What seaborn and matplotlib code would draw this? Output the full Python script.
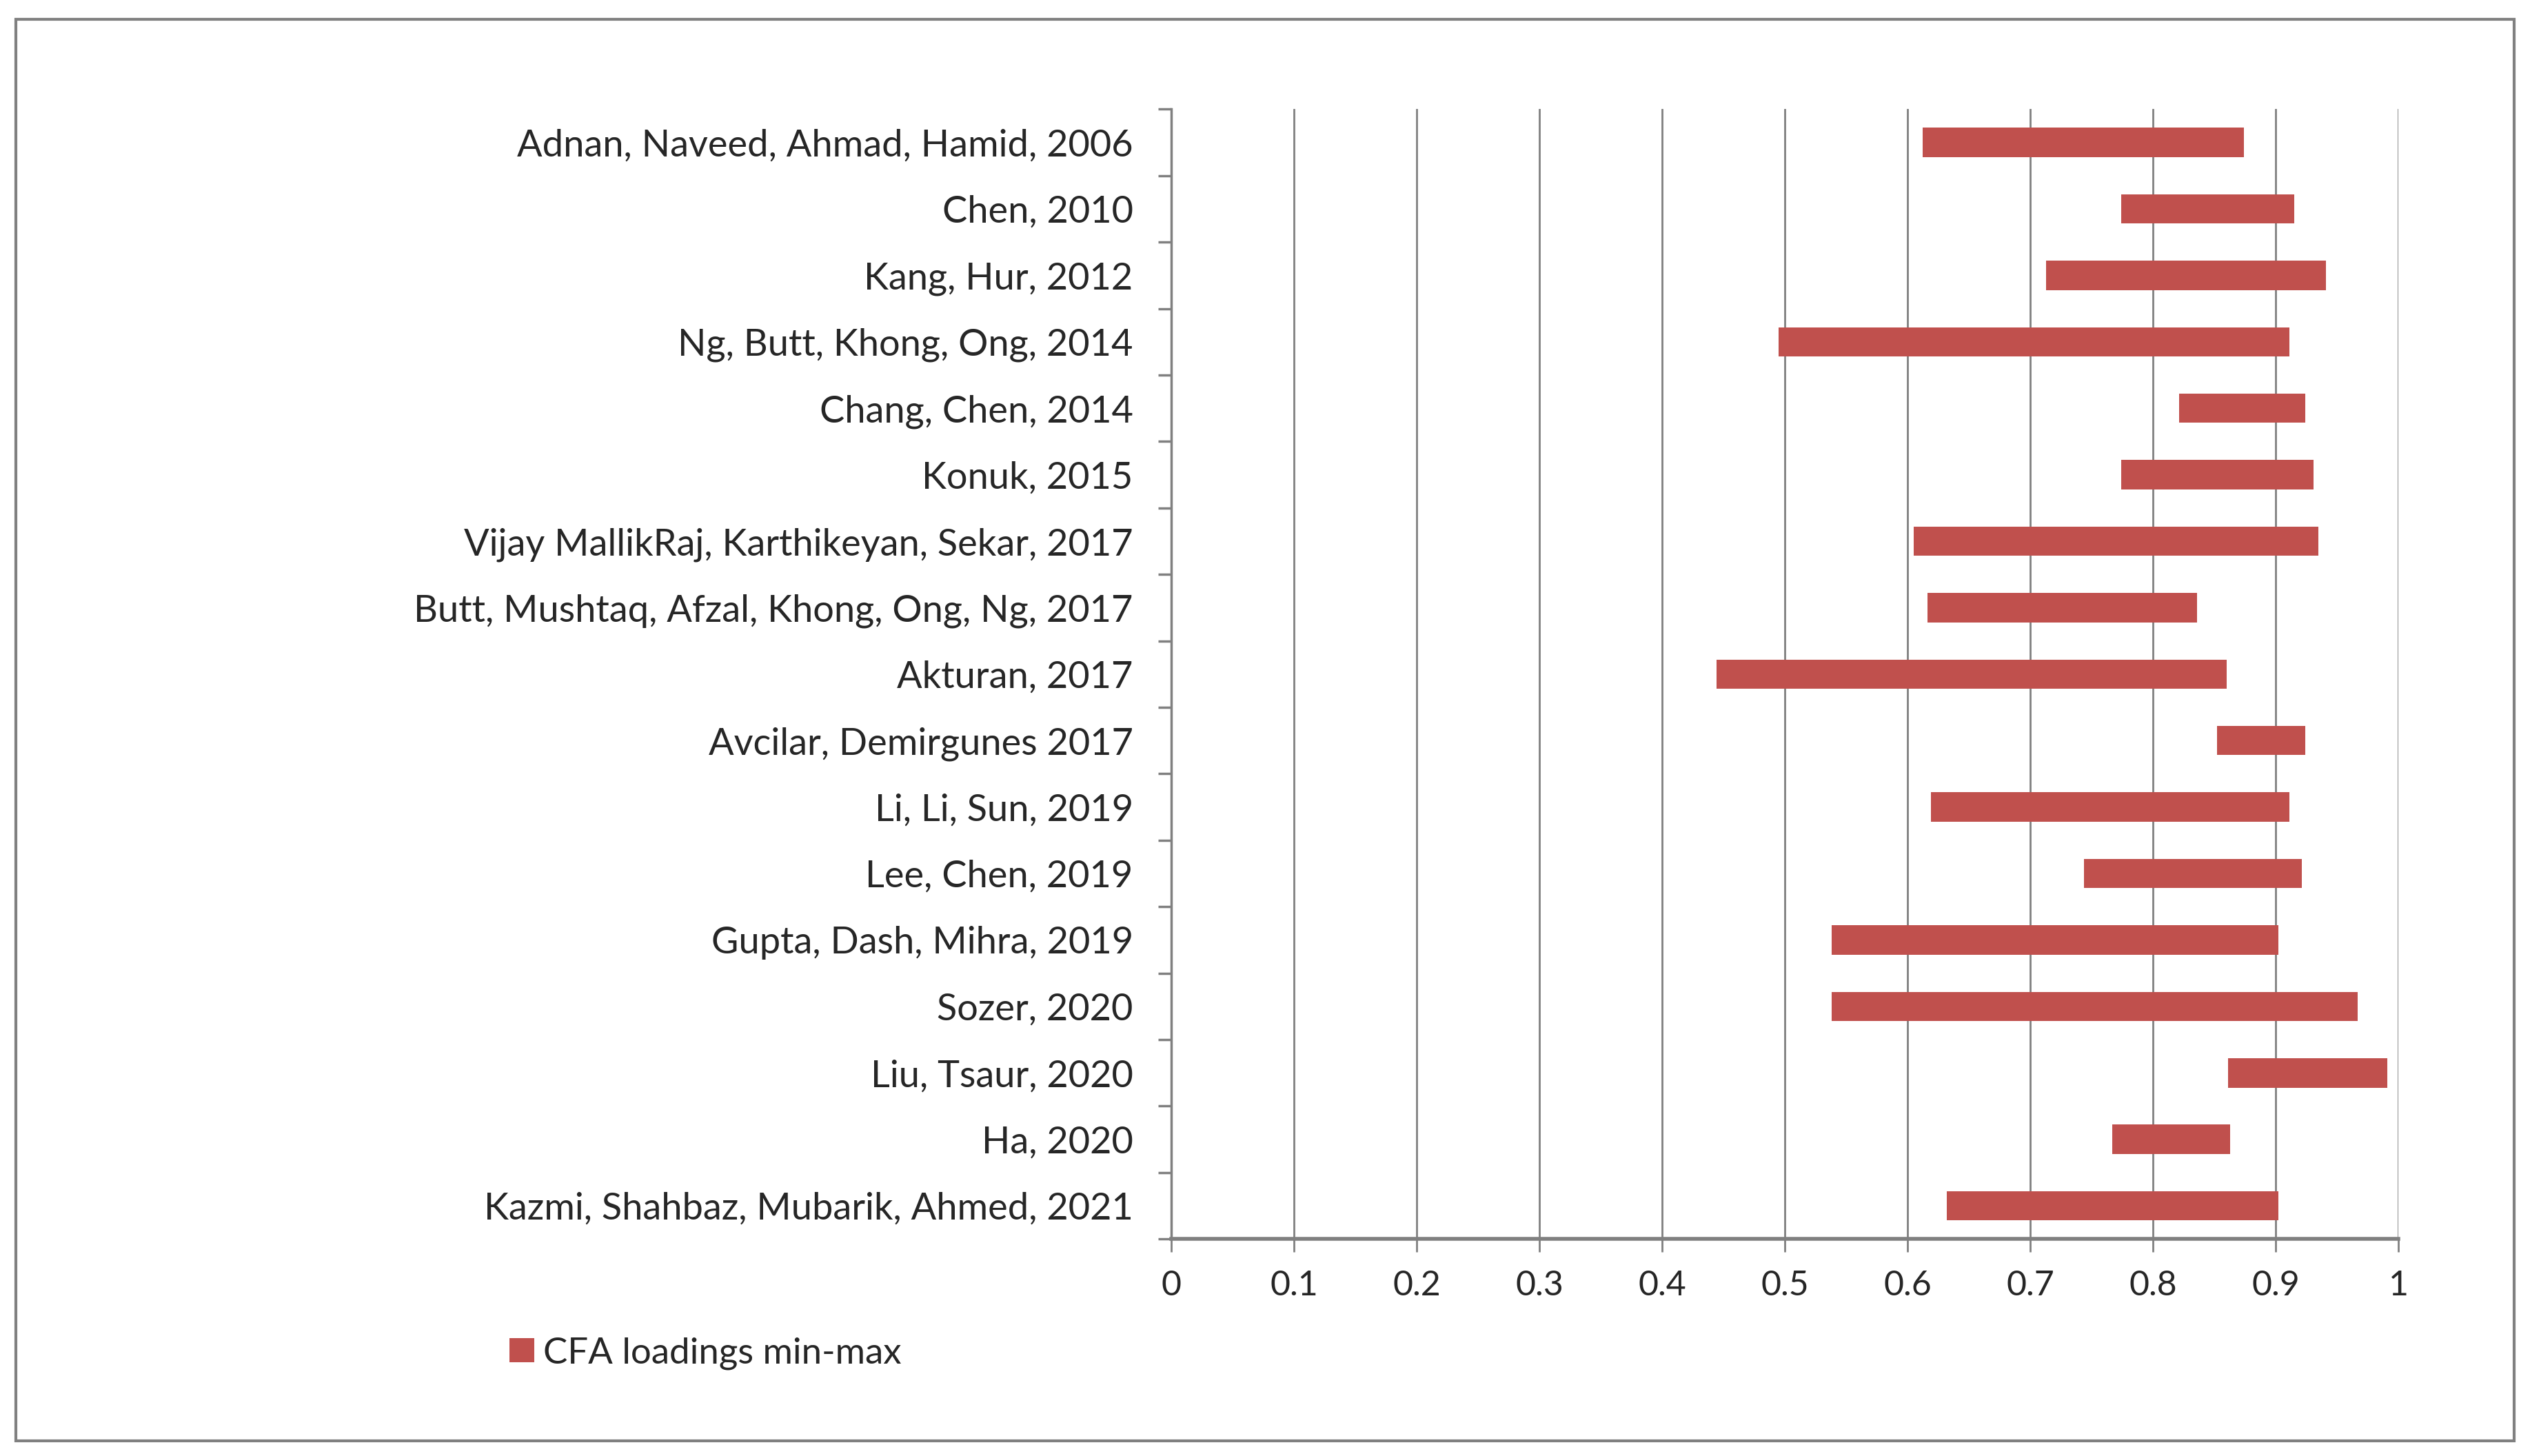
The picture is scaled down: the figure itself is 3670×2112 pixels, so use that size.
import numpy as np
import pandas as pd
import seaborn as sns
import matplotlib.pyplot as plt
from matplotlib.patches import Rectangle
from matplotlib.ticker import FixedLocator

# CFA loading ranges per study
studies = [
    "Adnan, Naveed, Ahmad, Hamid, 2006",
    "Chen, 2010",
    "Kang, Hur, 2012",
    "Ng, Butt, Khong, Ong, 2014",
    "Chang, Chen, 2014",
    "Konuk, 2015",
    "Vijay MallikRaj, Karthikeyan, Sekar, 2017",
    "Butt, Mushtaq, Afzal, Khong, Ong, Ng, 2017",
    "Akturan, 2017",
    "Avcilar, Demirgunes 2017",
    "Li, Li, Sun, 2019",
    "Lee, Chen, 2019",
    "Gupta, Dash, Mihra, 2019",
    "Sozer, 2020",
    "Liu, Tsaur, 2020",
    "Ha, 2020",
    "Kazmi, Shahbaz, Mubarik, Ahmed, 2021",
]
load_min = [0.612, 0.774, 0.713, 0.495, 0.821, 0.774, 0.605, 0.616, 0.444,
            0.852, 0.619, 0.744, 0.538, 0.538, 0.861, 0.767, 0.632]
load_max = [0.874, 0.915, 0.941, 0.911, 0.924, 0.931, 0.935, 0.836, 0.860,
            0.924, 0.911, 0.921, 0.902, 0.967, 0.991, 0.863, 0.902]
x_ticks = [0, 0.1, 0.2, 0.3, 0.4, 0.5, 0.6, 0.7, 0.8, 0.9, 1]
x_tick_labels = ["0", "0.1", "0.2", "0.3", "0.4", "0.5", "0.6", "0.7", "0.8", "0.9", "1"]
series_name = "CFA loadings min-max"

BAR_COLOR = "#C0504D"
GRID_COLOR = "#808080"

sns.set_style("white")
plt.rcParams["font.family"] = ["Lato", "DejaVu Sans"]

df = pd.DataFrame({"study": studies, "lo": load_min, "hi": load_max})

fig = plt.figure(figsize=(36.7, 21.12), dpi=100)
ax = fig.add_axes([0.463, 0.149, 0.485, 0.776])

sns.barplot(data=df, x="hi", y="study", orient="h", color=BAR_COLOR,
            saturation=1, width=0.44, ax=ax, label=series_name)

# turn each full bar into a min-max floating bar
for patch, lo, hi in zip(ax.patches, df["lo"], df["hi"]):
    patch.set_x(lo)
    patch.set_width(hi - lo)
    patch.set_edgecolor("none")

ax.set_xlim(0, 1)
ax.set_ylim(len(studies) - 0.5, -0.5)
ax.set_xlabel("")
ax.set_ylabel("")

ax.set_xticks(x_ticks)
ax.set_xticklabels(x_tick_labels, fontsize=36)
ax.xaxis.grid(True, color=GRID_COLOR, linewidth=2.0)
ax.set_axisbelow(True)

# category labels without marks, ticks at category boundaries (Excel style)
ax.tick_params(axis="y", which="major", length=0, pad=40, labelsize=39)
ax.yaxis.set_minor_locator(FixedLocator(np.arange(-0.5, len(studies), 1.0)))
ax.tick_params(axis="y", which="minor", length=14, width=2.5, color=GRID_COLOR, left=True)
ax.tick_params(axis="x", which="major", length=14, width=2.0, color=GRID_COLOR,
               bottom=True, pad=18)

for side in ["top", "right"]:
    ax.spines[side].set_visible(False)
ax.spines["left"].set_color(GRID_COLOR)
ax.spines["left"].set_linewidth(2.5)
ax.spines["bottom"].set_color(GRID_COLOR)
ax.spines["bottom"].set_linewidth(4)

handles, labels = ax.get_legend_handles_labels()
if ax.get_legend() is not None:
    ax.get_legend().remove()
fig.legend(handles[:1], [series_name], loc="center left",
           bbox_to_anchor=(0.2014, 0.0706), frameon=False, fontsize=38,
           handlelength=0.68, handleheight=0.66, handletextpad=0.25,
           borderpad=0, borderaxespad=0)

# outer frame around the whole chart
fig.add_artist(Rectangle((23 / 3670, 1 - 2090 / 2112), (3647 - 23) / 3670,
                         (2090 - 28) / 2112, transform=fig.transFigure,
                         fill=False, edgecolor=GRID_COLOR, linewidth=3))

fig.savefig("out.png", dpi=100)
